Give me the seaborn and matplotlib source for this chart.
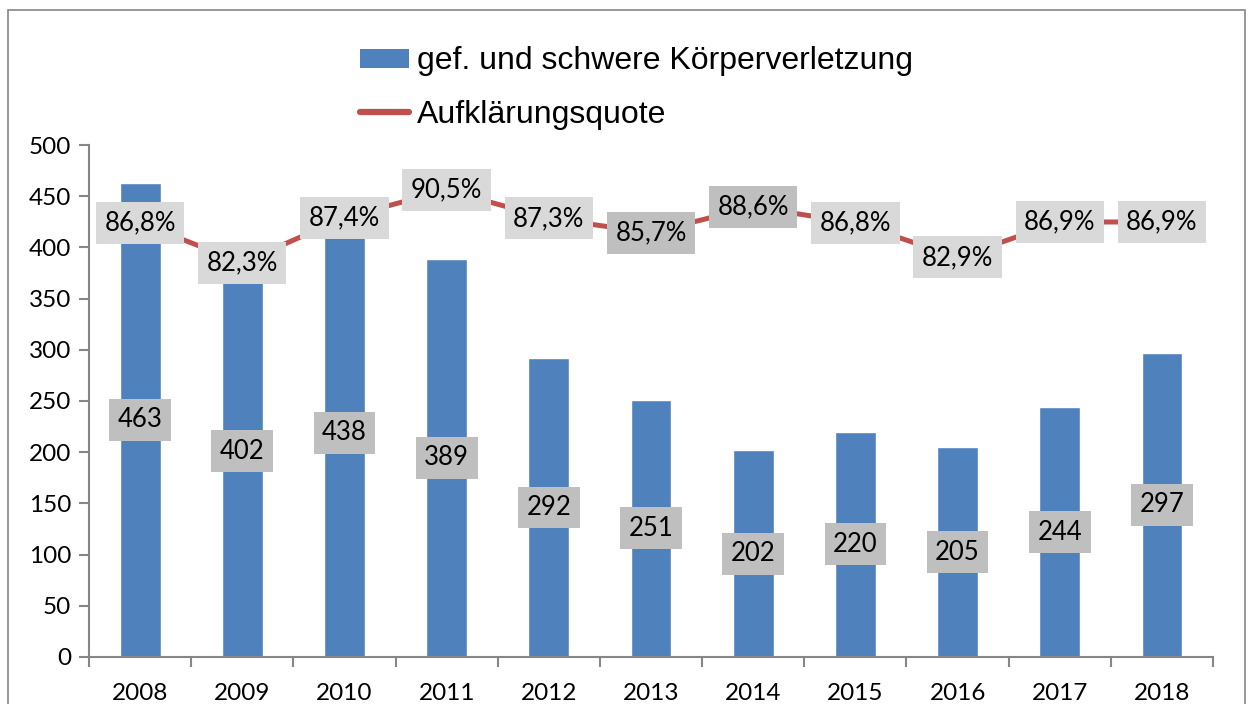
import numpy as np
import pandas as pd
import matplotlib

matplotlib.use("Agg")
import matplotlib.pyplot as plt
import seaborn as sns
from matplotlib.patches import Patch, Rectangle
from matplotlib.lines import Line2D

# --- data ---
years = ["2008", "2009", "2010", "2011", "2012", "2013", "2014", "2015", "2016", "2017", "2018"]
cases = [463, 402, 438, 389, 292, 251, 202, 220, 205, 244, 297]
quote = [86.8, 82.3, 87.4, 90.5, 87.3, 85.7, 88.6, 86.8, 82.9, 86.9, 86.9]
# label box shades as seen in the reference (some boxes darker)
quote_box = ["#d9d9d9", "#d9d9d9", "#d9d9d9", "#d9d9d9", "#d9d9d9", "#bfbfbf",
             "#bfbfbf", "#d9d9d9", "#d9d9d9", "#d9d9d9", "#d9d9d9"]

bar_color = "#4f81bd"
line_color = "#c0504d"
axis_gray = "#868686"

sns.set_theme(style="white")
plt.rcParams["font.family"] = ["Lato", "DejaVu Sans"]
plt.rcParams["text.color"] = "black"

df = pd.DataFrame({"year": years, "cases": cases, "quote": quote})

fig = plt.figure(figsize=(12.48, 7.04), dpi=100)
ax = fig.add_axes([0.0713, 0.0668, 0.9007, 0.7272])

sns.barplot(data=df, x="year", y="cases", color=bar_color, width=0.4,
            saturation=1, ax=ax, zorder=2)
ax.set_ylim(0, 500)
ax.set_xlim(-0.5, len(years) - 0.5)
ax.set_yticks(range(0, 501, 50))
ax.set_xlabel("")
ax.set_ylabel("")

for s in ["top", "right"]:
    ax.spines[s].set_visible(False)
for s in ["left", "bottom"]:
    ax.spines[s].set_color(axis_gray)
    ax.spines[s].set_linewidth(1.5)

ax.tick_params(axis="y", which="both", left=True, length=7, width=1.5,
               color=axis_gray, labelsize=17.5, pad=6, labelcolor="black")
# x ticks between categories, labels at centres
ax.set_xticks(np.arange(len(years)))
ax.set_xticklabels(years)
ax.set_xticks(np.arange(-0.5, len(years)), minor=True)
ax.tick_params(axis="x", which="major", length=0, labelsize=17.5, pad=19,
               labelcolor="black")
ax.tick_params(axis="x", which="minor", bottom=True, length=7, width=1.5,
               color=axis_gray)

# bar value labels at bar centre
for i, v in enumerate(cases):
    ax.text(i, v / 2, str(v), ha="center", va="center", fontsize=18.5,
            zorder=5,
            bbox=dict(boxstyle="square,pad=0.33", fc="#bfbfbf", ec="none"))

# hidden secondary axis for the rate
ax2 = ax.twinx()
sns.lineplot(x=np.arange(len(years)), y=quote, ax=ax2, color=line_color,
             linewidth=3.6, zorder=3)
ax2.set_ylim(37.84, 95.58)
ax2.set_xlim(-0.5, len(years) - 0.5)
ax2.axis("off")

for i, q in enumerate(quote):
    ax2.text(i, q, f"{q:.1f}%".replace(".", ","), ha="center", va="center",
             fontsize=18.5, zorder=5,
             bbox=dict(boxstyle="square,pad=0.33", fc=quote_box[i], ec="none"))

# legend
handles = [Patch(facecolor=bar_color, edgecolor="none"),
           Line2D([0], [0], color=line_color, linewidth=4.5,
                  solid_capstyle="round")]
fig.legend(handles, ["gef. und schwere Körperverletzung", "Aufklärungsquote"],
           loc="center", bbox_to_anchor=(0.51, 0.875), frameon=False,
           prop={"family": "Liberation Sans", "size": 23},
           handlelength=1.55, handleheight=0.55, handletextpad=0.25,
           labelspacing=0.72, borderaxespad=0)

# outer chart frame
fig.patches.append(Rectangle((8 / 1248, -0.05), 1237 / 1248, 1.05 - 10 / 704,
                             transform=fig.transFigure, fill=False,
                             edgecolor=axis_gray, linewidth=1.2))

fig.savefig("out.png", dpi=100)
